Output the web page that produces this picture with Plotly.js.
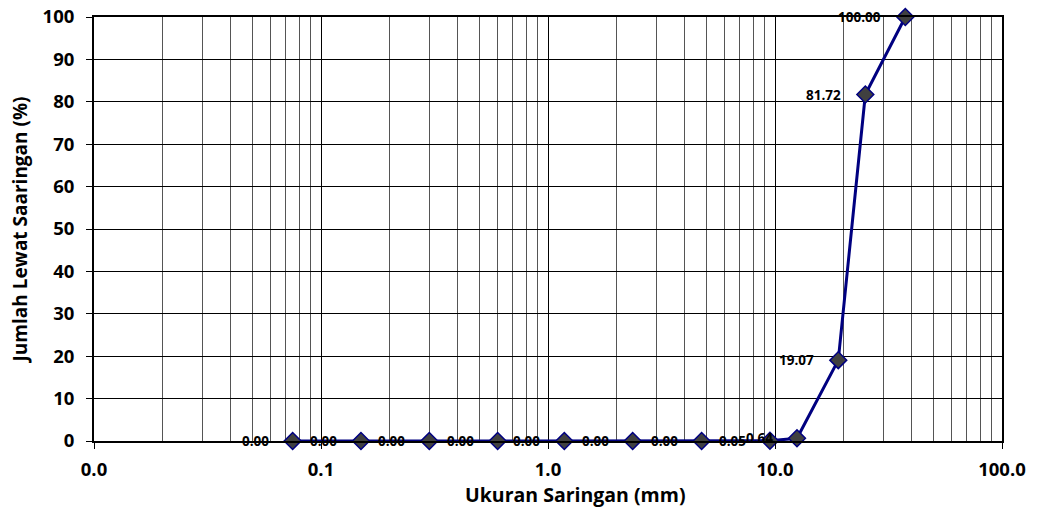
<!DOCTYPE html>
<html>
<head>
<meta charset="utf-8">
<script src="https://cdn.plot.ly/plotly-3.0.1.min.js"></script>
<style>html,body{margin:0;padding:0;background:#fff;}#chart{width:1037px;height:510px;}</style>
</head>
<body>
<div id="chart"></div>
<script>
const sieveSizes = [0.075, 0.15, 0.3, 0.6, 1.18, 2.36, 4.75, 9.5, 12.5, 19, 25, 37.5];
const passingPercent = [0.00, 0.00, 0.00, 0.00, 0.00, 0.00, 0.00, 0.05, 0.64, 19.07, 81.72, 100.00];
const xTickVals = [0.01, 0.1, 1, 10, 100];
const xTickText = ['0.0', '0.1', '1.0', '10.0', '100.0'];
const xTitle = 'Ukuran Saringan (mm)';
const yTitle = 'Jumlah Lewat Saaringan (%)';

const FONT = '"Open Sans", "Liberation Sans", sans-serif';

const trace = {
  x: sieveSizes,
  y: passingPercent,
  mode: 'lines+markers',
  type: 'scatter',
  cliponaxis: false,
  line: {color: '#000080', width: 3},
  marker: {symbol: 'diamond', size: 13, color: '#404040', line: {color: '#000080', width: 1.5}},
  hoverinfo: 'x+y'
};

const labels = sieveSizes.map((s, i) => ({
  x: Math.log10(s),
  y: passingPercent[i],
  xref: 'x', yref: 'y',
  text: passingPercent[i].toFixed(2),
  showarrow: false,
  xanchor: 'right', yanchor: 'middle',
  xshift: -22,
  font: {family: FONT, size: 13.5, color: '#000', weight: 700}
}));

labels.push({
  x: 0.53, y: -0.127, xref: 'paper', yref: 'paper',
  text: xTitle, showarrow: false,
  xanchor: 'center', yanchor: 'middle',
  font: {family: FONT, size: 19.5, color: '#000', weight: 700}
});

const layout = {
  width: 1037, height: 510,
  margin: {l: 94, r: 35, t: 17, b: 69},
  paper_bgcolor: '#fff', plot_bgcolor: '#fff',
  showlegend: false,
  font: {family: FONT, color: '#000'},
  annotations: labels,
  xaxis: {
    type: 'log',
    range: [-2, 2],
    tickvals: xTickVals,
    ticktext: xTickText,
    tickfont: {family: FONT, size: 18.5, weight: 700},
    ticks: 'outside', ticklen: 6, tickcolor: '#000', tickwidth: 1,
    ticklabelstandoff: 5,
    showgrid: true, gridcolor: '#000', gridwidth: 1,
    minor: {dtick: 'D1', showgrid: true, gridcolor: '#555', gridwidth: 1, ticks: ''},
    showline: true, linecolor: '#000', linewidth: 2, mirror: true,
    zeroline: false
  },
  yaxis: {
    range: [0, 100],
    dtick: 10,
    tickfont: {family: FONT, size: 18.5, weight: 700},
    ticks: 'outside', ticklen: 6, tickcolor: '#000', tickwidth: 1,
    ticklabelstandoff: 8,
    showgrid: true, gridcolor: '#000', gridwidth: 1,
    showline: true, linecolor: '#000', linewidth: 2, mirror: true,
    zeroline: false,
    title: {text: yTitle, font: {family: FONT, size: 19, weight: 700}, standoff: 10}
  }
};

Plotly.newPlot('chart', [trace], layout, {staticPlot: true, displayModeBar: false});
</script>
</body>
</html>
